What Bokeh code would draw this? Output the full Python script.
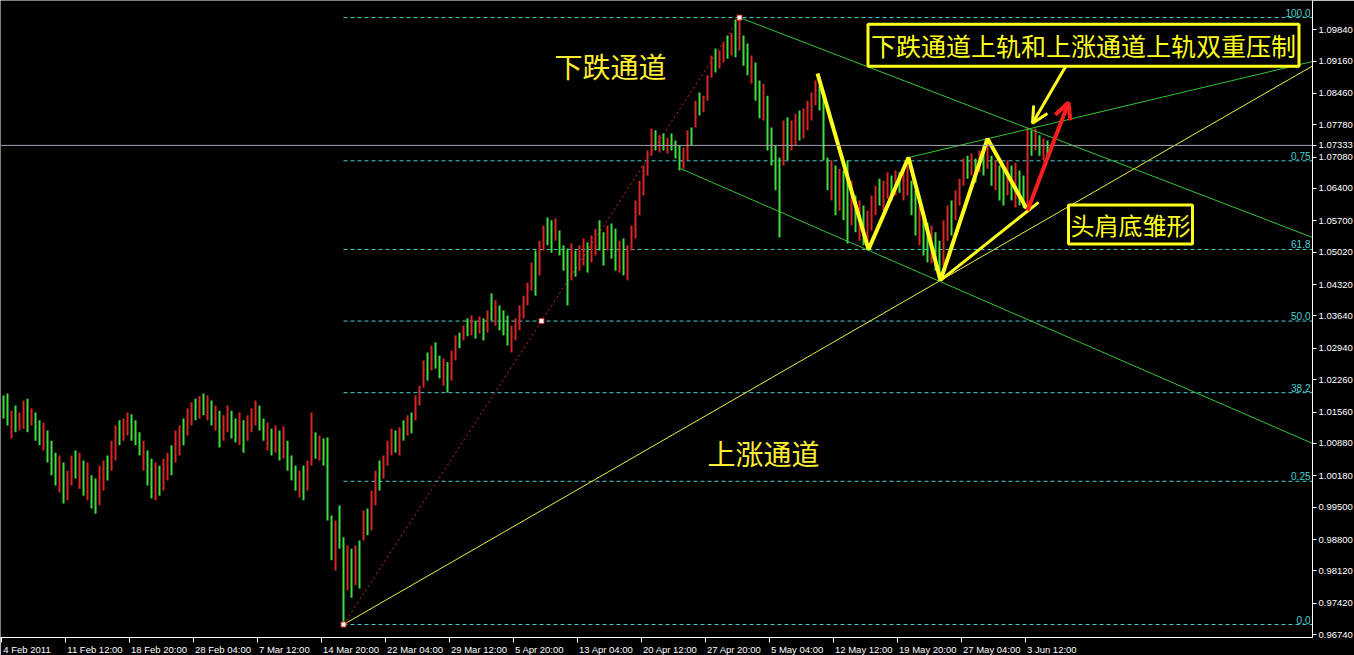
from bokeh.plotting import figure
from bokeh.models import (FixedTicker, Label, Arrow, OpenHead, Span, ColumnDataSource,
                          Range1d, PrintfTickFormatter, LinearAxis)
from bokeh.embed import file_html
from bokeh.resources import INLINE
from bokeh.core.properties import value

# ---------------- data (AUD/USD, 4H bars, one every 2 bars) ----------------
highs = [
    1.0192, 1.0196, 1.0159, 1.0170, 1.0155, 1.0181, 1.0185, 1.0164, 1.0155, 1.0138,
    1.0133, 1.0116, 1.0094, 1.0068, 1.0062, 1.0047, 1.0029, 1.0062, 1.0073, 1.0068,
    1.0051, 1.0047, 1.0019, 1.0012, 1.0040, 1.0051, 1.0062, 1.0094, 1.0127, 1.0138,
    1.0142, 1.0155, 1.0151, 1.0138, 1.0112, 1.0094, 1.0073, 1.0055, 1.0047, 1.0040,
    1.0055, 1.0068, 1.0084, 1.0116, 1.0127, 1.0142, 1.0164, 1.0177, 1.0185, 1.0190,
    1.0196, 1.0192, 1.0181, 1.0170, 1.0159, 1.0149, 1.0170, 1.0159, 1.0142, 1.0155,
    1.0138, 1.0149, 1.0164, 1.0181, 1.0170, 1.0142, 1.0133, 1.0120, 1.0127, 1.0116,
    1.0125, 1.0094, 1.0062, 1.0040, 1.0029, 1.0040, 1.0051, 1.0155, 1.0112, 1.0105,
    1.0099, 1.0101, 0.9932, 0.9921, 0.9954, 0.9885, 0.9867, 0.9860, 0.9867, 0.9878,
    0.9943, 0.9947, 0.9986, 1.0029, 1.0051, 1.0062, 1.0094, 1.0120, 1.0116, 1.0123,
    1.0138, 1.0149, 1.0155, 1.0192, 1.0213, 1.0268, 1.0285, 1.0300, 1.0307, 1.0278,
    1.0272, 1.0264, 1.0289, 1.0322, 1.0328, 1.0343, 1.0359, 1.0365, 1.0354, 1.0363,
    1.0359, 1.0376, 1.0413, 1.0398, 1.0387, 1.0376, 1.0365, 1.0343, 1.0359, 1.0387,
    1.0408, 1.0436, 1.0480, 1.0506, 1.0527, 1.0560, 1.0577, 1.0571, 1.0575, 1.0549,
    1.0517, 1.0510, 1.0521, 1.0506, 1.0517, 1.0532, 1.0523, 1.0538, 1.0553, 1.0571,
    1.0545, 1.0560, 1.0564, 1.0553, 1.0527, 1.0532, 1.0517, 1.0560, 1.0614, 1.0657,
    1.0690, 1.0722, 1.0770, 1.0766, 1.0755, 1.0759, 1.0750, 1.0759, 1.0744, 1.0733,
    1.0729, 1.0766, 1.0772, 1.0830, 1.0848, 1.0841, 1.0885, 1.0928, 1.0943, 1.0939,
    1.0956, 1.0971, 1.0976, 1.1006, 1.1010, 1.0971, 1.0954, 1.0928, 1.0913, 1.0874,
    1.0867, 1.0841, 1.0772, 1.0733, 1.0707, 1.0787, 1.0794, 1.0787, 1.0802, 1.0809,
    1.0813, 1.0830, 1.0848, 1.0874, 1.0863, 1.0846, 1.0707, 1.0701, 1.0690, 1.0683,
    1.0679, 1.0701, 1.0657, 1.0625, 1.0614, 1.0603, 1.0592, 1.0625, 1.0646, 1.0661,
    1.0657, 1.0675, 1.0668, 1.0679, 1.0675, 1.0683, 1.0690, 1.0657, 1.0636, 1.0603,
    1.0582, 1.0566, 1.0560, 1.0545, 1.0527, 1.0571, 1.0603, 1.0614, 1.0636, 1.0661,
    1.0705, 1.0711, 1.0716, 1.0705, 1.0722, 1.0733, 1.0744, 1.0711, 1.0701, 1.0690,
    1.0683, 1.0701, 1.0690, 1.0696, 1.0679, 1.0668, 1.0772, 1.0766, 1.0770, 1.0755,
    1.0748, 1.0744,
]
lows = [
    1.0142, 1.0127, 1.0099, 1.0112, 1.0116, 1.0120, 1.0112, 1.0127, 1.0094, 1.0084,
    1.0073, 1.0047, 1.0019, 0.9997, 0.9982, 0.9958, 0.9965, 0.9997, 1.0012, 0.9990,
    0.9975, 0.9965, 0.9947, 0.9936, 0.9954, 0.9986, 1.0008, 1.0029, 1.0051, 1.0084,
    1.0094, 1.0105, 1.0094, 1.0084, 1.0062, 1.0029, 0.9997, 0.9969, 0.9965, 0.9975,
    0.9986, 1.0008, 1.0019, 1.0047, 1.0062, 1.0084, 1.0105, 1.0127, 1.0138, 1.0142,
    1.0149, 1.0138, 1.0127, 1.0116, 1.0079, 1.0094, 1.0112, 1.0099, 1.0090, 1.0084,
    1.0068, 1.0094, 1.0112, 1.0127, 1.0116, 1.0094, 1.0073, 1.0062, 1.0068, 1.0051,
    1.0055, 1.0029, 1.0008, 0.9986, 0.9971, 0.9965, 0.9986, 1.0040, 1.0055, 1.0051,
    1.0040, 0.9921, 0.9835, 0.9813, 0.9860, 0.9696, 0.9770, 0.9754, 0.9781, 0.9774,
    0.9878, 0.9889, 0.9900, 0.9954, 0.9986, 1.0012, 1.0040, 1.0062, 1.0068, 1.0062,
    1.0094, 1.0105, 1.0110, 1.0138, 1.0170, 1.0209, 1.0224, 1.0246, 1.0250, 1.0229,
    1.0213, 1.0198, 1.0224, 1.0268, 1.0294, 1.0311, 1.0320, 1.0322, 1.0315, 1.0326,
    1.0311, 1.0328, 1.0354, 1.0343, 1.0333, 1.0322, 1.0300, 1.0285, 1.0311, 1.0333,
    1.0359, 1.0387, 1.0419, 1.0408, 1.0452, 1.0506, 1.0517, 1.0501, 1.0527, 1.0495,
    1.0462, 1.0387, 1.0441, 1.0449, 1.0462, 1.0473, 1.0458, 1.0480, 1.0495, 1.0506,
    1.0473, 1.0506, 1.0488, 1.0462, 1.0458, 1.0452, 1.0441, 1.0506, 1.0532, 1.0582,
    1.0625, 1.0668, 1.0711, 1.0722, 1.0718, 1.0722, 1.0716, 1.0722, 1.0705, 1.0679,
    1.0683, 1.0701, 1.0733, 1.0772, 1.0798, 1.0805, 1.0830, 1.0880, 1.0891, 1.0900,
    1.0913, 1.0921, 1.0928, 1.0924, 1.0939, 1.0906, 1.0885, 1.0867, 1.0830, 1.0792,
    1.0787, 1.0722, 1.0690, 1.0636, 1.0534, 1.0690, 1.0701, 1.0722, 1.0733, 1.0744,
    1.0748, 1.0766, 1.0787, 1.0820, 1.0809, 1.0701, 1.0636, 1.0614, 1.0582, 1.0592,
    1.0571, 1.0521, 1.0560, 1.0545, 1.0527, 1.0517, 1.0508, 1.0549, 1.0582, 1.0603,
    1.0592, 1.0618, 1.0614, 1.0625, 1.0631, 1.0614, 1.0625, 1.0582, 1.0538, 1.0517,
    1.0495, 1.0480, 1.0478, 1.0462, 1.0445, 1.0473, 1.0527, 1.0538, 1.0571, 1.0603,
    1.0646, 1.0661, 1.0668, 1.0653, 1.0675, 1.0668, 1.0683, 1.0646, 1.0636, 1.0614,
    1.0603, 1.0625, 1.0614, 1.0599, 1.0603, 1.0597, 1.0603, 1.0711, 1.0722, 1.0711,
    1.0701, 1.0705,
]
closes = [
    1.0165, 1.0140, 1.0150, 1.0125, 1.0148, 1.0175, 1.0130, 1.0158, 1.0110, 1.0092,
    1.0120, 1.0055, 1.0030, 1.0005, 1.0040, 0.9970, 1.0020, 1.0050, 1.0025, 1.0058,
    0.9990, 1.0035, 0.9960, 0.9945, 1.0030, 1.0045, 1.0015, 1.0085, 1.0115, 1.0095,
    1.0135, 1.0150, 1.0105, 1.0090, 1.0070, 1.0080, 1.0005, 0.9978, 1.0035, 0.9990,
    1.0045, 1.0060, 1.0030, 1.0105, 1.0120, 1.0090, 1.0155, 1.0170, 1.0145, 1.0182,
    1.0160, 1.0185, 1.0135, 1.0160, 1.0090, 1.0140, 1.0162, 1.0110, 1.0100, 1.0148,
    1.0078, 1.0140, 1.0155, 1.0175, 1.0125, 1.0100, 1.0125, 1.0070, 1.0118, 1.0060,
    1.0115, 1.0040, 1.0015, 0.9995, 1.0020, 0.9975, 1.0040, 1.0130, 1.0065, 1.0098,
    1.0050, 0.9930, 0.9850, 0.9905, 0.9870, 0.9720, 0.9855, 0.9770, 0.9858, 0.9800,
    0.9935, 0.9900, 0.9978, 1.0020, 1.0000, 1.0055, 1.0088, 1.0112, 1.0075, 1.0115,
    1.0100, 1.0142, 1.0118, 1.0185, 1.0205, 1.0260, 1.0235, 1.0292, 1.0258, 1.0240,
    1.0265, 1.0210, 1.0282, 1.0315, 1.0300, 1.0338, 1.0325, 1.0358, 1.0320, 1.0358,
    1.0318, 1.0370, 1.0360, 1.0390, 1.0340, 1.0330, 1.0310, 1.0335, 1.0352, 1.0380,
    1.0400, 1.0430, 1.0472, 1.0420, 1.0520, 1.0552, 1.0525, 1.0510, 1.0568, 1.0500,
    1.0470, 1.0420, 1.0512, 1.0455, 1.0510, 1.0525, 1.0465, 1.0530, 1.0545, 1.0515,
    1.0480, 1.0552, 1.0495, 1.0470, 1.0520, 1.0460, 1.0508, 1.0552, 1.0605, 1.0648,
    1.0680, 1.0715, 1.0762, 1.0730, 1.0748, 1.0728, 1.0745, 1.0730, 1.0712, 1.0690,
    1.0722, 1.0758, 1.0740, 1.0822, 1.0805, 1.0835, 1.0878, 1.0920, 1.0900, 1.0932,
    1.0950, 1.0930, 1.0968, 1.0935, 1.0990, 1.0915, 1.0895, 1.0920, 1.0840, 1.0800,
    1.0860, 1.0735, 1.0700, 1.0645, 1.0600, 1.0780, 1.0710, 1.0780, 1.0795, 1.0750,
    1.0805, 1.0824, 1.0840, 1.0866, 1.0815, 1.0710, 1.0645, 1.0690, 1.0592, 1.0675,
    1.0580, 1.0535, 1.0648, 1.0555, 1.0605, 1.0525, 1.0585, 1.0618, 1.0640, 1.0610,
    1.0650, 1.0668, 1.0622, 1.0672, 1.0640, 1.0676, 1.0684, 1.0590, 1.0548, 1.0595,
    1.0505, 1.0488, 1.0552, 1.0470, 1.0455, 1.0562, 1.0595, 1.0548, 1.0628, 1.0655,
    1.0698, 1.0668, 1.0708, 1.0660, 1.0715, 1.0676, 1.0736, 1.0655, 1.0694, 1.0622,
    1.0612, 1.0694, 1.0620, 1.0688, 1.0610, 1.0605, 1.0760, 1.0720, 1.0760, 1.0718,
    1.0742, 1.07333,
]

# time axis: one tick every 32 four-hour bars
tick_bars = [0, 32, 64, 96, 128, 160, 192, 224, 256, 288, 320, 352, 384, 416, 448, 480, 512]
tick_labels = ["4 Feb 2011", "11 Feb 12:00", "18 Feb 20:00", "28 Feb 04:00", "7 Mar 12:00",
               "14 Mar 20:00", "22 Mar 04:00", "29 Mar 12:00", "5 Apr 20:00", "13 Apr 04:00",
               "20 Apr 12:00", "27 Apr 20:00", "5 May 04:00", "12 May 12:00", "19 May 20:00",
               "27 May 04:00", "3 Jun 12:00"]
price_ticks = [0.96740, 0.97420, 0.98120, 0.98800, 0.99500, 1.00180, 1.00880, 1.01560,
               1.02260, 1.02940, 1.03640, 1.04320, 1.05020, 1.05700, 1.06400, 1.07080,
               1.07780, 1.08460, 1.09160, 1.09840]

fib_ratios = [1.0, 0.764, 0.618, 0.5, 0.382, 0.236, 0.0]
fib_labels = ["100.0", "0.75", "61.8", "50.0", "38.2", "0.25", "0.0"]
current_price = 1.07333

# hand-drawn pattern (bar index, price)
w_pattern_x = [408, 433.5, 453.5, 469.5, 493, 512.5]
w_pattern_y = [1.0889, 1.0508, 1.0707, 1.0441, 1.0748, 1.0597]
neck_x = [469.5, 518.5]
neck_y = [1.0441, 1.0610]
# channel lines: (x0, y0, x1, y1)
up_upper = (453.5, 1.0707, 655.5, 1.0915)
down_upper = (369, 1.1010, 655.5, 1.0534)
down_lower = (339.5, 1.0683, 655.5, 1.0088)

# ---------------- figure ----------------
X_MIN, X_MAX = -0.5, 655.5
FRAME_W, FRAME_H = 1312, 637
p = figure(frame_width=FRAME_W, frame_height=FRAME_H,
           x_range=Range1d(X_MIN, X_MAX), y_range=Range1d(0.96679, 1.1047),
           y_axis_location="right", output_backend="svg", toolbar_location=None,
           background_fill_color="black", border_fill_color="black",
           min_border=0, min_border_left=0, min_border_top=0, min_border_right=0,
           min_border_bottom=0)
p.outline_line_color = None
p.xgrid.visible = False
p.ygrid.visible = False

AX_FONT = "Liberation Sans"
AX_SIZE = 9.5
for ax in (p.xaxis[0], p.yaxis[0]):
    ax.axis_line_color = "white"
    ax.major_tick_line_color = "white"
    ax.minor_tick_line_color = None
    ax.major_tick_in = 0
    ax.major_label_text_color = "white"
    ax.major_label_text_font = AX_FONT
    ax.major_label_text_font_size = "%gpx" % AX_SIZE
# price scale, plus the current bid as an extra tick label
p.yaxis.ticker = FixedTicker(ticks=price_ticks + [current_price])
p.yaxis.formatter = PrintfTickFormatter(format="%.5f")
p.yaxis.major_tick_out = 4
p.yaxis.major_label_standoff = 2

# bottom axis: tick marks only; labels on a second axis so that they start at their tick
p.xaxis.ticker = FixedTicker(ticks=tick_bars)
p.xaxis.major_label_overrides = {t: "" for t in tick_bars}
p.xaxis.major_label_text_font_size = "0px"
p.xaxis.major_label_standoff = 0
p.xaxis.major_tick_out = 5

CHAR_W = {c: 0.556 for c in "0123456789abenpu"}
CHAR_W.update({" ": 0.278, ":": 0.278, "F": 0.611, "M": 0.833, "r": 0.333, "A": 0.667,
               "J": 0.5, "y": 0.5})
px_per_bar = FRAME_W / (X_MAX - X_MIN)
label_pos = [t + (1.5 + sum(CHAR_W.get(c, 0.556) for c in l) * AX_SIZE / 2) / px_per_bar
             for t, l in zip(tick_bars, tick_labels)]
lab_axis = LinearAxis(ticker=FixedTicker(ticks=label_pos),
                      major_label_overrides={pos: l for pos, l in zip(label_pos, tick_labels)},
                      axis_line_color=None, major_tick_line_color=None, minor_tick_line_color=None,
                      major_tick_out=0, major_tick_in=0, major_label_standoff=1,
                      major_label_text_color="white", major_label_text_font=AX_FONT,
                      major_label_text_font_size="%gpx" % AX_SIZE)
p.add_layout(lab_axis, "below")

# bars
bar_x = [1 + 2 * k for k in range(len(highs))]
opens = [closes[0]] + closes[:-1]
colors = ["#d82626" if c > o else "#40dc40" for o, c in zip(opens, closes)]
src = ColumnDataSource(dict(x=bar_x, high=highs, low=lows, color=colors))

# fib retracement from the low to the high
lo_i = lows.index(min(lows))
hi_i = highs.index(max(highs))
lo_x, lo_p = bar_x[lo_i], lows[lo_i]
hi_x, hi_p = bar_x[hi_i], highs[hi_i]
fib_levels = [lo_p + r * (hi_p - lo_p) for r in fib_ratios]
p.segment(x0=[lo_x] * len(fib_levels), y0=fib_levels, x1=[X_MAX] * len(fib_levels), y1=fib_levels,
          line_color="#4fcfcf", line_width=1, line_dash="4 3")
p.text(x=[X_MAX] * len(fib_levels), y=fib_levels, text=fib_labels, x_offset=-2, y_offset=-1,
       text_align="right", text_baseline="bottom", text_color="#4fcfcf",
       text_font=value(AX_FONT), text_font_size="10px")

# current price line
p.add_layout(Span(location=current_price, dimension="width", line_color="#a2a2ae", line_width=1))

# red dotted fib line
p.line([lo_x, hi_x], [lo_p, hi_p], line_color="#d02828", line_width=1, line_dash="2 3")

# price bars
p.segment(x0="x", y0="low", x1="x", y1="high", line_color="color", line_width=2, source=src)

# rising channel lower line (through the low and the second W bottom), extended to the edge
slope = (w_pattern_y[3] - lo_p) / (w_pattern_x[3] - lo_x)
p.segment(x0=[lo_x], y0=[lo_p], x1=[X_MAX], y1=[lo_p + slope * (X_MAX - lo_x)],
          line_color="#eded4a", line_width=1)
# green channel lines
for (x0, y0, x1, y1) in (up_upper, down_upper, down_lower):
    p.segment(x0=[x0], y0=[y0], x1=[x1], y1=[y1], line_color="#35c435", line_width=1)

# anchor squares
p.scatter([lo_x, (lo_x + hi_x) / 2, hi_x], [lo_p, (lo_p + hi_p) / 2, hi_p], marker="square",
          size=5, fill_color="white", line_color="#d02828")

# hand-drawn W pattern
p.line(w_pattern_x, w_pattern_y, line_color="#ffff1e", line_width=4)
p.line(neck_x, neck_y, line_color="#ffff1e", line_width=3)

p.add_layout(Arrow(end=OpenHead(line_color="#ff1e1e", line_width=4, size=16),
                   x_start=513, y_start=1.0592, x_end=533.5, y_end=1.0826,
                   line_color="#ff1e1e", line_width=4))
p.add_layout(Arrow(end=OpenHead(line_color="#ffff1e", line_width=3, size=16),
                   x_start=533, y_start=1.0911, x_end=515.5, y_end=1.0781,
                   line_color="#ffff1e", line_width=3))

CJK = "Noto Sans CJK SC"
p.add_layout(Label(x=304.5, y=1.0906, text="下跌通道", text_font=CJK, text_font_size="28px",
                   text_color="#ffee33", text_align="center", text_baseline="middle"))
p.add_layout(Label(x=381, y=1.0068, text="上涨通道", text_font=CJK, text_font_size="28px",
                   text_color="#ffee33", text_align="center", text_baseline="middle"))
p.add_layout(Label(x=541, y=1.0950, text="下跌通道上轨和上涨通道上轨双重压制", text_font=CJK,
                   text_font_size="25px", text_color="#ffff1e", text_align="center",
                   text_baseline="middle", background_fill_color="black",
                   border_line_color="#ffff1e", border_line_width=3, padding=3))
p.add_layout(Label(x=564.5, y=1.0562, text="头肩底雏形", text_font=CJK,
                   text_font_size="24px", text_color="#ffff1e", text_align="center",
                   text_baseline="middle", background_fill_color="black",
                   border_line_color="#ffff1e", border_line_width=3, padding=2))

open("out.html", "w").write(file_html(p, INLINE, "AUDUSD H4"))
